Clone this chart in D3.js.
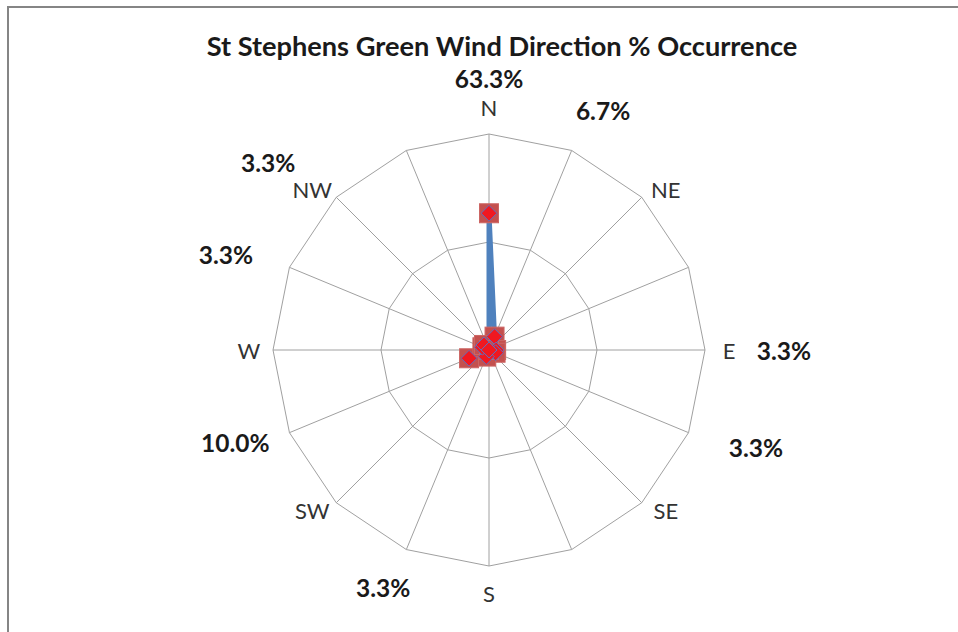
<!DOCTYPE html>
<html><head><meta charset="utf-8">
<script src="https://cdn.jsdelivr.net/npm/d3@7"></script>
<style>body{margin:0;background:#fff}svg{display:block}</style>
</head><body><svg id="c" width="958" height="632"></svg>
<script>
// ---- data ----
const directions = ["N","NNE","NE","ENE","E","ESE","SE","SSE","S","SSW","SW","WSW","W","WNW","NW","NNW"];
const axisLabels = ["N","","NE","","E","","SE","","S","","SW","","W","","NW",""];
const occurrence = [63.3,6.7,0,0,3.3,3.3,0,0,0,3.3,0,10.0,0,3.3,3.3,0];
const dataLabels = ["63.3%","6.7%","","","3.3%","3.3%","","","","3.3%","","10.0%","","3.3%","3.3%",""];
const gridTicks = [50,100];
const chartTitle = "St Stephens Green Wind Direction % Occurrence";

// ---- layout ----
const W = 958, H = 632, cx = 489, cy = 350, R = 216;
// data label placement: [radius px, angle shift deg] relative to the category direction
const labelPlacement = {N:[272,0], NNE:[265,3], E:[295,0], ESE:[284,-2.5], SSW:[260,1.5], WSW:[270,2.5], WNW:[280,-2.5], NW:[290,-4.6]};

const svg = d3.select("#c");
svg.append("rect").attr("width",W).attr("height",H).attr("fill","#fff");
svg.append("rect").attr("x",8).attr("y",7).attr("width",W+20).attr("height",H+20)
  .attr("fill","none").attr("stroke","#858585").attr("stroke-width",2);

const r = d3.scaleLinear().domain([0,100]).range([0,R]);
const ang = d3.scaleLinear().domain([0,directions.length]).range([0,2*Math.PI]);
const px = (a,rad)=>cx + rad*Math.sin(a);
const py = (a,rad)=>cy - rad*Math.cos(a);

const g = svg.append("g").attr("transform",`translate(${cx},${cy})`);

// spokes
g.selectAll("line.spoke").data(directions).join("line").attr("class","spoke")
  .attr("x1",0).attr("y1",0)
  .attr("x2",(d,i)=>r(100)*Math.sin(ang(i)))
  .attr("y2",(d,i)=>-r(100)*Math.cos(ang(i)))
  .attr("stroke","#a0a0a0").attr("stroke-width",1);

// rings
g.selectAll("path.ring").data(gridTicks).join("path").attr("class","ring")
  .attr("d",t=>d3.lineRadial().angle((d,i)=>ang(i)).radius(()=>r(t)).curve(d3.curveLinearClosed)(directions))
  .attr("fill","none").attr("stroke","#a0a0a0").attr("stroke-width",1);

// category labels (slightly elliptical placement, like the spreadsheet layout)
const catX = i => { const a=ang(i), k=Math.abs(Math.sin(2*a)); return cx + (240+10*k)*Math.sin(a); };
const catY = i => { const a=ang(i), k=Math.abs(Math.sin(2*a)); return cy - (243-16*k)*Math.cos(a); };
svg.selectAll("text.cat").data(directions).join("text").attr("class","cat")
  .attr("x",(d,i)=>catX(i)).attr("y",(d,i)=>catY(i))
  .attr("text-anchor","middle").attr("dominant-baseline","central")
  .attr("font-family","Lato, 'Open Sans', sans-serif").attr("font-size",22)
  .attr("fill","#333").text((d,i)=>axisLabels[i]);

// series line
g.append("path")
  .attr("d",d3.lineRadial().angle((d,i)=>ang(i)).radius(d=>r(d)).curve(d3.curveLinearClosed)(occurrence))
  .attr("fill","none").attr("stroke","#4F81BD").attr("stroke-width",5).attr("stroke-linejoin","round");

// square markers
g.selectAll("rect.sq").data(occurrence).join("rect").attr("class","sq")
  .attr("x",(d,i)=>r(d)*Math.sin(ang(i))-9.5).attr("y",(d,i)=>-r(d)*Math.cos(ang(i))-9.5)
  .attr("width",19).attr("height",19)
  .attr("fill","#C4504E").attr("stroke","#CC6664").attr("stroke-width",1);

// diamond markers
const diamond = d3.symbol().type(d3.symbolDiamond2).size(160);
g.selectAll("path.dm").data(occurrence).join("path").attr("class","dm")
  .attr("transform",(d,i)=>`translate(${r(d)*Math.sin(ang(i))},${-r(d)*Math.cos(ang(i))})`)
  .attr("d",diamond())
  .attr("fill","#F01820").attr("stroke","#6070C0").attr("stroke-width",1);

// data labels
directions.forEach((dname,i)=>{
  if(!dataLabels[i]) return;
  const [lr, shift] = labelPlacement[dname];
  const a = ang(i) + shift*Math.PI/180;
  svg.append("text").attr("x",px(a,lr)).attr("y",py(a,lr))
    .attr("text-anchor","middle").attr("dominant-baseline","central")
    .attr("font-family","Lato, 'Open Sans', sans-serif").attr("font-weight","bold").attr("font-size",24.5)
    .attr("fill","#1a1a1a").text(dataLabels[i]);
});

// title
svg.append("text").attr("x",502).attr("y",45)
  .attr("text-anchor","middle").attr("dominant-baseline","central")
  .attr("font-family","Lato, 'Open Sans', sans-serif").attr("font-weight","bold").attr("font-size",27.2)
  .attr("fill","#1a1a1a").text(chartTitle);
</script></body></html>
